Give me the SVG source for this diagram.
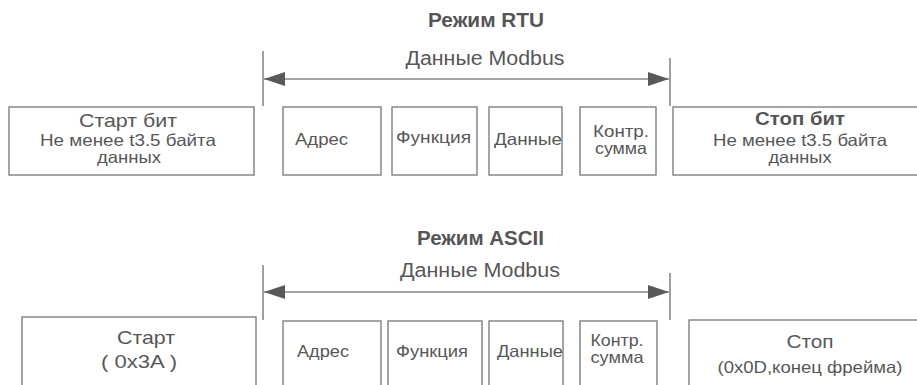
<svg xmlns="http://www.w3.org/2000/svg" width="917" height="385" viewBox="0 0 917 385">
<style>
text{font-family:"Liberation Sans",Arial,sans-serif;fill:#575757;text-anchor:middle}
.t{font-weight:bold;font-size:20px;fill:#555}
.lbl{font-size:20px}
.b{fill:#fff;stroke:#767676;stroke-width:1.3}
.big{font-size:18.5px}
.sm{font-size:16.5px}
.bold{font-weight:bold;font-size:19px;fill:#555}
.v{stroke:#808080;stroke-width:1.5}
.a{stroke:#a6a6a6;stroke-width:2}
</style>
<defs>
<marker id="ah" markerUnits="userSpaceOnUse" markerWidth="22" markerHeight="15" refX="21" refY="7" orient="auto-start-reverse">
<path d="M0,0 L21,7 L0,14 z" fill="#58595b"/>
</marker>
</defs>
<g id="rtu-title"><text class="t" x="486" y="27" textLength="116" lengthAdjust="spacingAndGlyphs">Режим RTU</text></g>
<g id="rtu-label"><text class="lbl" x="485" y="65" textLength="159" lengthAdjust="spacingAndGlyphs">Данные Modbus</text></g>
<g id="connectors">
<line class="v" x1="263" y1="51" x2="263" y2="106"/>
<line class="v" x1="670" y1="58" x2="670" y2="106"/>
<line class="a" x1="264" y1="79" x2="669" y2="79" marker-start="url(#ah)" marker-end="url(#ah)"/>
<line class="v" x1="263" y1="265" x2="263" y2="320"/>
<line class="v" x1="670" y1="273" x2="670" y2="320"/>
<line class="a" x1="264" y1="292" x2="669" y2="292" marker-start="url(#ah)" marker-end="url(#ah)"/>
</g>
<g id="rtu-start"><rect class="b" x="9" y="107" width="245" height="68"/>
<text class="big" x="128" y="127" textLength="98" lengthAdjust="spacingAndGlyphs">Старт бит</text>
<text class="sm" x="128" y="146" textLength="176" lengthAdjust="spacingAndGlyphs">Не менее t3.5 байта</text>
<text class="sm" x="129" y="163" textLength="64" lengthAdjust="spacingAndGlyphs">данных</text></g>
<g id="rtu-addr"><rect class="b" x="283" y="107" width="98" height="68"/>
<text class="sm" x="321.5" y="145" textLength="53" lengthAdjust="spacingAndGlyphs">Адрес</text></g>
<g id="rtu-func"><rect class="b" x="392" y="107" width="85" height="68"/>
<text class="sm" x="433.5" y="143" textLength="75" lengthAdjust="spacingAndGlyphs">Функция</text></g>
<g id="rtu-data"><rect class="b" x="489" y="107" width="73" height="68"/>
<text class="sm" x="528" y="145" textLength="68" lengthAdjust="spacingAndGlyphs">Данные</text></g>
<g id="rtu-crc"><rect class="b" x="580" y="107" width="76" height="68"/>
<text class="sm" x="621" y="137" textLength="56" lengthAdjust="spacingAndGlyphs">Контр.</text>
<text class="sm" x="621" y="154" textLength="52" lengthAdjust="spacingAndGlyphs">сумма</text></g>
<g id="rtu-stop"><rect class="b" x="673" y="107" width="254" height="68"/>
<text class="bold" x="800" y="125" textLength="90" lengthAdjust="spacingAndGlyphs">Стоп бит</text>
<text class="sm" x="800" y="146" textLength="174" lengthAdjust="spacingAndGlyphs">Не менее t3.5 байта</text>
<text class="sm" x="800" y="163" textLength="63" lengthAdjust="spacingAndGlyphs">данных</text></g>
<g id="ascii-title"><text class="t" x="480.5" y="245" textLength="127" lengthAdjust="spacingAndGlyphs">Режим ASCII</text></g>
<g id="ascii-label"><text class="lbl" x="480" y="277" textLength="160" lengthAdjust="spacingAndGlyphs">Данные Modbus</text></g>
<g id="ascii-start"><rect class="b" x="22" y="317" width="234" height="80"/>
<text class="big" x="146" y="344" textLength="58" lengthAdjust="spacingAndGlyphs">Старт</text>
<text class="big" x="139" y="368" textLength="76" lengthAdjust="spacingAndGlyphs">( 0x3A )</text></g>
<g id="ascii-addr"><rect class="b" x="283" y="321" width="98" height="80"/>
<text class="sm" x="323" y="357" textLength="52" lengthAdjust="spacingAndGlyphs">Адрес</text></g>
<g id="ascii-func"><rect class="b" x="388" y="321" width="94" height="80"/>
<text class="sm" x="432" y="357" textLength="72" lengthAdjust="spacingAndGlyphs">Функция</text></g>
<g id="ascii-data"><rect class="b" x="489" y="321" width="74" height="80"/>
<text class="sm" x="530" y="357" textLength="66" lengthAdjust="spacingAndGlyphs">Данные</text></g>
<g id="ascii-crc"><rect class="b" x="580" y="321" width="77" height="80"/>
<text class="sm" x="617" y="346" textLength="53" lengthAdjust="spacingAndGlyphs">Контр.</text>
<text class="sm" x="617" y="363" textLength="53" lengthAdjust="spacingAndGlyphs">сумма</text></g>
<g id="ascii-stop"><rect class="b" x="689" y="320" width="242" height="80"/>
<text class="big" x="810" y="348" textLength="47" lengthAdjust="spacingAndGlyphs">Стоп</text>
<text class="sm" x="810" y="373" textLength="185" lengthAdjust="spacingAndGlyphs">(0x0D,конец фрейма)</text></g>
</svg>
